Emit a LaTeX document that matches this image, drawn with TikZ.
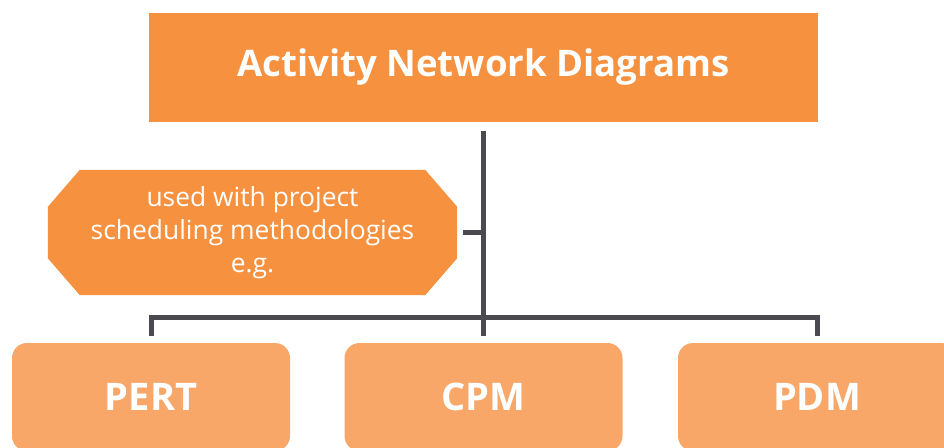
\documentclass[tikz,border=0pt]{standalone}
\usepackage{fontspec}
\setmainfont{Open Sans}
\usetikzlibrary{backgrounds}

\definecolor{andark}{RGB}{246,145,64}
\definecolor{anlight}{RGB}{248,167,104}
\definecolor{anline}{RGB}{74,74,80}

\begin{document}
\begin{tikzpicture}
  [x=1pt,y=-1pt,
   every node/.style={text=white,inner sep=0pt,align=center},
   title/.style={rectangle,fill=andark,minimum width=669pt,minimum height=109pt,
     font=\fontsize{36.6}{40}\selectfont\bfseries},
   usage/.style={rectangle,minimum width=409pt,minimum height=125pt,
     font=\fontsize{26.4}{33}\selectfont},
   method/.style={rectangle,rounded corners=15pt,fill=anlight,minimum width=278pt,
     minimum height=108pt,font=\fontsize{38}{40}\selectfont\bfseries},
   link/.style={draw=anline,line width=5pt}]

  \clip (0,0) rectangle (944,447);
  \useasboundingbox (0,0) rectangle (944,447);

  \node[title] (and) at (483.5,67) {Activity Network Diagrams};
  \node[usage] (use) at (252.5,232.5) {used with project\\scheduling methodologies\\e.g.};
  % cut corners of the note
  \begin{scope}[on background layer]
    \fill[andark] ([xshift=32pt]use.north west) -- ([xshift=-32pt]use.north east)
      -- ([yshift=-37pt]use.north east) -- ([yshift=37pt]use.south east)
      -- ([xshift=-32pt]use.south east) -- ([xshift=32pt]use.south west)
      -- ([yshift=37pt]use.south west) -- ([yshift=-37pt]use.north west) -- cycle;
  \end{scope}

  \node[method] (pert) at (151,397) {PERT};
  \node[method] (cpm) at (483.5,397) {CPM};
  \node[method] (pdm) at (817,397) {PDM};

  % trunk and branches
  \draw[link,shorten <=9pt,shorten >=7pt] (and.south) -- (cpm.north);
  \draw[link,shorten <=6pt] (use.east) -- (use.east -| and.south);
  \draw[link,shorten <=7pt,shorten >=7pt] (pert.north) -- ++(0,-25) -| (pdm.north);

\end{tikzpicture}
\end{document}
